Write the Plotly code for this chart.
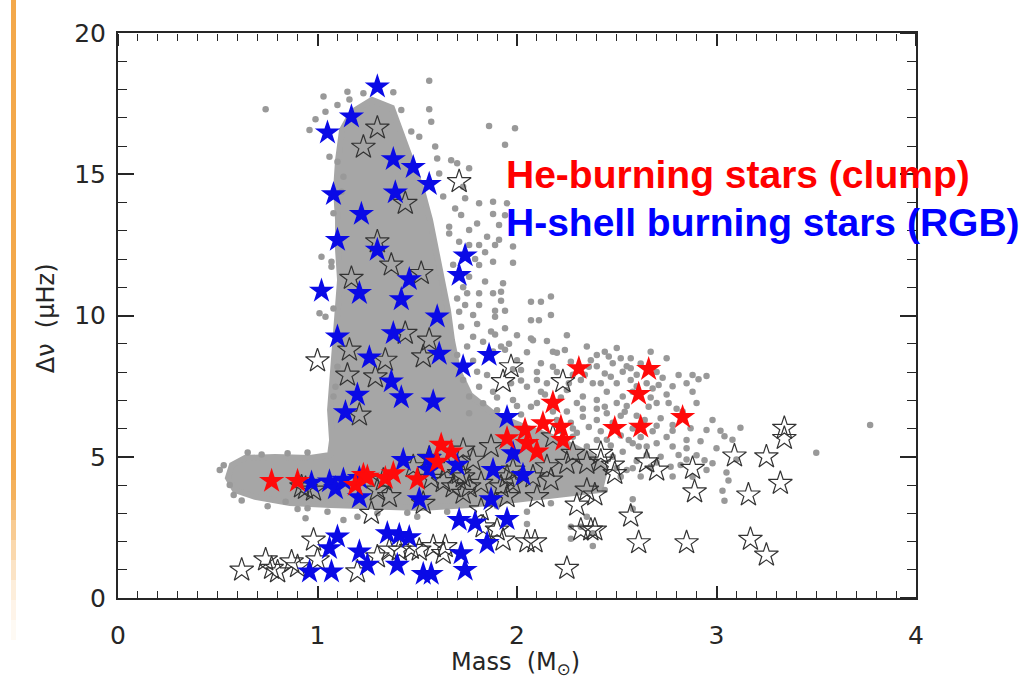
import plotly.graph_objects as go

# ---- Asteroseismic sample: large frequency separation vs. stellar mass ----

# Outline of the densely populated part of the field-star cloud (mass, Δν)
core_mass = [1.173, 1.273, 1.373, 1.424, 1.474, 1.524, 1.564, 1.594, 1.624, 1.654,
             1.674, 1.704, 1.764, 1.890, 2.015, 2.216, 2.366, 2.441, 2.416, 2.216,
             2.015, 1.764, 1.514, 1.263, 1.063, 0.862, 0.687, 0.586, 0.551, 0.571,
             0.637, 0.787, 0.962, 1.063, 1.073, 1.063, 1.073, 1.088, 1.103, 1.113,
             1.103, 1.103, 1.093, 1.103, 1.123, 1.173]
core_dnu = [17.20, 17.63, 17.35, 16.39, 15.50, 14.44, 13.38, 12.32, 11.26, 10.19,
            9.13, 8.07, 7.19, 6.48, 6.12, 5.59, 5.06, 4.53, 3.82, 3.65,
            3.47, 3.29, 3.19, 3.22, 3.29, 3.36, 3.58, 3.82, 4.25, 4.71,
            4.96, 4.99, 4.96, 5.06, 5.59, 6.65, 7.72, 8.96, 10.19, 11.26,
            12.32, 13.38, 14.44, 15.50, 16.57, 17.20]

# Individual field stars outside the dense core (mass, Δν)
field_mass = [
    1.56, 1.38, 1.42, 1.56, 1.57, 1.51, 1.47, 1.86, 1.99, 1.94, 1.59, 1.60, 1.67, 1.76,
    1.61, 1.73, 1.63, 1.74, 1.81, 1.88, 1.95, 1.69, 1.72, 1.80, 1.91, 1.85, 1.66, 1.76,
    1.71, 1.81, 1.89, 1.98, 1.94, 1.88, 1.91, 1.98, 1.88, 1.84, 1.92, 1.94, 1.89, 2.07,
    2.11, 2.17, 1.89, 2.08, 1.94, 1.88, 1.70,
    1.02, 1.07, 1.01, 0.74, 1.03, 1.15, 1.04, 0.99, 0.96, 1.10, 1.06, 1.10, 1.13, 1.12,
    1.08, 1.23, 1.16, 1.07, 1.04, 1.08, 1.10, 1.09, 1.08, 0.51, 0.94, 0.95, 1.13, 1.20,
    0.84, 1.50, 2.05, 2.32,
    1.76, 1.81, 1.76, 1.84, 1.93, 1.92, 1.75, 1.81, 1.88, 2.07, 2.12, 2.17, 1.74, 1.81,
    1.71, 1.78, 1.89, 1.94, 1.87, 2.07, 1.78, 1.83, 1.75, 2.18, 2.00, 2.02, 2.10, 2.05,
    2.12, 1.85, 1.80, 1.73, 1.81, 1.88, 1.76, 1.83, 1.98, 2.07, 1.90, 1.76, 2.25, 2.32,
    2.37, 2.24, 2.18, 2.33, 2.38,
    2.44, 2.52, 2.57, 2.67, 2.75, 2.81, 2.88, 2.91, 2.95, 2.88, 2.71, 2.68, 2.57, 2.57,
    2.53, 2.48, 2.40, 2.47, 2.42, 2.53, 2.66, 2.72, 2.78, 2.87, 2.95, 3.02, 3.12, 2.85,
    2.78, 2.70, 2.65, 2.58, 2.53, 2.55, 2.58, 2.77, 2.82, 2.94, 2.98, 3.05, 3.03, 2.58,
    3.50, 3.77, 2.40, 2.45, 2.20, 2.78, 3.04, 3.04, 2.95, 3.06, 2.58, 2.05, 2.27, 2.12,
    2.36, 2.44, 2.44, 2.54, 2.33, 2.28, 2.35, 2.40, 2.56, 2.61, 2.67, 2.88, 2.81, 2.72,
    2.52, 2.44, 2.17, 2.35, 2.27, 2.38, 2.27, 2.38,
    2.25, 2.30, 2.28, 2.45, 2.50, 2.40, 2.48, 2.55, 2.60, 2.62, 2.70, 2.75, 2.80, 2.22,
    2.15, 2.20, 2.42, 2.52, 2.62, 2.28, 2.18, 2.10, 2.02, 1.98, 2.05, 2.15, 2.25, 2.00,
    2.35, 2.50, 2.64, 2.70, 2.58, 2.47, 2.68, 2.30, 2.20,
    0.62, 0.75, 0.90, 1.05, 1.30, 1.45, 1.65, 1.90, 0.53, 0.58, 0.65, 0.72, 0.85, 0.95,
    0.56,
    1.72, 1.80, 1.70, 1.68, 1.73, 1.79, 1.66, 1.70, 1.78, 1.92, 1.96, 1.97, 1.90, 2.00,
    2.02, 2.10, 2.14, 2.26, 2.34, 2.40, 2.46, 2.55, 2.60, 2.65, 2.73, 2.78, 2.85, 2.90,
    2.83, 2.76, 2.67, 2.58, 2.50, 2.40, 2.33, 2.27, 2.36, 2.45, 2.52, 2.60, 2.70, 2.75,
    2.85, 2.92, 2.90, 2.65, 2.48, 2.60, 2.70, 2.50, 2.62, 2.78, 2.85, 3.00, 3.08, 2.98,
    3.10,
]
field_dnu = [
    18.31, 17.90, 17.27, 17.30, 16.86, 16.33, 16.51, 16.71, 16.63, 16.04, 15.98, 15.56, 15.50, 15.21,
    15.03, 14.56, 14.21, 14.15, 13.97, 14.03, 13.97, 13.79, 13.56, 13.26, 13.20, 12.79, 13.14, 13.03,
    12.61, 12.50, 12.50, 12.44, 13.55, 13.59, 12.68, 11.87, 11.90, 12.24, 10.52, 10.17, 10.17, 9.83,
    9.83, 10.02, 9.33, 9.12, 8.79, 8.73, 15.39,
    12.08, 11.73, 10.08, 17.30, 17.75, 17.92, 17.21, 16.95, 16.57, 17.45, 15.62, 15.44, 14.91, 14.38,
    13.62, 17.87, 17.65, 11.90, 9.96, 10.25, 8.19, 7.48, 7.13, 4.53, 2.82, 3.18, 2.76, 2.88,
    3.41, 2.88, 3.05, 2.52,
    12.50, 11.79, 11.37, 11.20, 11.14, 10.84, 10.79, 10.79, 10.79, 10.49, 10.49, 10.67, 10.37, 10.37,
    10.13, 10.02, 9.96, 9.55, 9.43, 9.19, 9.25, 9.07, 8.90, 8.72, 8.42, 8.07, 7.72, 7.48,
    7.30, 7.89, 8.01, 7.72, 7.48, 7.30, 7.13, 6.89, 7.01, 6.77, 6.65, 6.54, 7.36, 7.72,
    8.42, 8.78, 8.19, 7.13, 7.60,
    8.72, 8.49, 8.49, 8.72, 8.49, 7.89, 7.89, 7.74, 7.86, 7.30, 7.54, 7.42, 8.13, 7.72,
    8.01, 8.31, 8.60, 7.83, 7.60, 7.13, 6.77, 6.36, 6.12, 6.01, 5.95, 5.92, 6.03, 5.59,
    5.36, 5.48, 5.36, 5.48, 5.18, 4.53, 4.59, 4.65, 4.71, 4.88, 4.77, 4.44, 3.80, 3.50,
    5.14, 6.12, 7.01, 6.54, 8.68, 5.92, 5.73, 3.44, 4.53, 4.16, 3.16, 2.62, 8.36, 8.31,
    8.19, 7.95, 6.77, 6.59, 6.42, 5.71, 5.36, 5.59, 5.59, 5.36, 4.65, 4.29, 5.06, 5.00,
    4.29, 3.82, 3.35, 2.88, 2.52, 2.29, 2.10, 1.84,
    6.60, 6.90, 7.90, 7.30, 6.90, 6.30, 6.20, 6.80, 7.50, 8.30, 8.00, 7.20, 6.70, 7.10,
    7.60, 8.00, 5.90, 5.75, 5.70, 6.00, 6.60, 8.00, 7.70, 8.10, 8.70, 9.10, 9.30, 9.30,
    8.90, 8.85, 6.30, 6.90, 6.00, 5.40, 5.90, 5.85, 6.30,
    3.45, 3.25, 3.15, 3.05, 3.00, 3.02, 3.05, 3.25, 4.70, 3.65, 5.15, 5.08, 5.12, 5.15,
    4.00,
    9.60, 9.70, 10.60, 11.80, 11.00, 12.00, 12.90, 8.60, 8.40, 8.90, 9.00, 7.60, 7.10, 6.80,
    6.50, 6.90, 7.20, 7.60, 7.90, 8.20, 8.55, 8.20, 7.90, 7.60, 7.80, 7.50, 7.60, 6.90,
    6.60, 6.90, 7.10, 7.30, 7.60, 6.70, 6.70, 6.20, 6.05, 5.60, 6.45, 6.45, 6.10, 5.70,
    5.30, 5.55, 5.05, 5.05, 5.00, 4.85, 4.80, 4.60, 4.30, 4.30, 4.90, 5.30, 5.60, 6.30,
    4.90,
]

# Seismically classified stars without an evolutionary-state label (open stars)
other_mass = [1.30, 1.23, 1.71, 1.44, 1.30, 1.37, 1.52, 1.17, 1.00, 1.16, 1.15, 1.29, 1.34, 1.21,
              1.44, 1.56, 1.53, 1.97, 1.93, 2.23, 2.42, 2.48, 2.65, 2.70, 2.88, 2.89, 3.09, 3.25,
              3.34, 3.34, 3.32, 3.16, 2.39, 2.57, 2.39, 2.61, 2.85, 3.17, 3.25, 2.25, 2.05, 2.09,
              2.30, 2.32, 2.37, 2.35, 2.17, 2.10, 1.82, 1.90, 1.93, 1.64, 1.58, 1.51, 0.62, 0.74,
              0.77, 0.80, 0.87, 0.90, 0.98, 1.00, 0.94, 1.27, 1.20, 1.30, 1.36, 1.41, 1.47, 1.63,
              1.53, 1.95, 1.83, 1.30, 1.33, 1.48, 1.56, 1.63, 1.68, 1.73, 1.76, 1.73, 1.98, 1.98,
              1.92, 0.92, 0.98, 1.36, 1.65, 1.71, 1.78, 1.82, 1.95, 2.08, 2.15, 2.25, 2.35, 2.28,
              2.18, 1.73, 1.87, 1.57, 2.49, 2.42]
other_dnu = [16.64, 15.96, 14.74, 13.97, 12.61, 11.79, 11.49, 11.32, 8.40, 8.78, 7.89, 7.83, 8.42, 6.48,
             9.37, 9.13, 8.54, 8.19, 7.66, 7.66, 5.12, 4.71, 4.82, 4.53, 4.59, 3.76, 5.03, 5.00,
             6.01, 5.65, 4.06, 3.65, 3.65, 2.90, 2.41, 1.96, 1.96, 2.08, 1.52, 1.05, 1.99, 1.99,
             3.29, 2.41, 2.41, 3.82, 4.18, 3.59, 3.12, 2.41, 2.05, 1.82, 1.82, 1.70, 0.99, 1.35,
             1.05, 0.93, 1.28, 1.11, 2.05, 1.35, 3.88, 3.00, 0.93, 1.46, 1.70, 1.70, 1.76, 1.58,
             3.35, 3.59, 2.52, 3.82, 4.18, 4.65, 4.95, 4.12, 3.94, 4.29, 3.94, 3.71, 4.53, 4.07,
             3.94, 3.94, 3.82, 3.59, 4.65, 4.41, 4.88, 4.06, 4.29, 4.29, 4.65, 4.77, 4.77, 5.12,
             5.71, 5.24, 5.36, 4.24, 4.41, 4.85]

# H-shell burning stars on the red-giant branch
rgb_mass = [1.30, 1.17, 1.05, 1.38, 1.48, 1.56, 1.08, 1.39, 1.22, 1.10, 1.30, 1.74, 1.71, 1.46,
            1.02, 1.21, 1.42, 1.60, 1.10, 1.38, 1.61, 1.86, 1.26, 1.73, 1.37, 1.20, 1.42, 1.58,
            1.14, 1.95, 1.43, 1.56, 1.56, 1.70, 1.88, 1.98, 2.03, 0.97, 1.06, 1.09, 1.13, 1.21,
            1.21, 1.51, 1.87, 1.71, 1.79, 1.95, 1.85, 1.35, 1.41, 1.46, 1.10, 1.06, 0.96, 1.07,
            1.21, 1.25, 1.40, 1.53, 1.57, 1.72, 1.74]
rgb_dnu = [18.10, 17.04, 16.47, 15.53, 15.25, 14.65, 14.29, 14.35, 13.59, 12.67, 12.32, 12.12, 11.43, 11.28,
           10.87, 10.79, 10.57, 9.96, 9.25, 9.37, 8.64, 8.60, 8.51, 8.19, 7.66, 7.19, 7.10, 6.95,
           6.57, 6.40, 4.88, 4.95, 4.53, 4.71, 4.53, 5.12, 4.35, 4.08, 4.12, 3.88, 4.18, 4.24,
           3.56, 3.49, 3.49, 2.76, 2.67, 2.79, 1.94, 2.29, 2.23, 2.15, 2.17, 1.76, 0.93, 0.93,
           1.64, 1.17, 1.17, 0.85, 0.85, 1.58, 0.99]

# He-core burning (red clump) stars
clump_mass = [0.77, 0.90, 1.19, 1.23, 1.25, 1.34, 1.38, 1.50, 1.60, 1.62, 1.67, 1.95, 2.05, 2.04,
              2.13, 2.22, 2.23, 2.10, 2.18, 2.31, 2.66, 2.61, 2.49, 2.62, 2.83]
clump_dnu = [4.14, 4.14, 4.00, 4.35, 4.29, 4.24, 4.41, 4.20, 4.82, 5.42, 5.18, 5.65, 5.48, 5.95,
             6.18, 6.06, 5.59, 5.18, 6.91, 8.13, 8.10, 7.22, 6.01, 6.06, 6.40]

# Axis ranges
mass_range = [0, 4]
dnu_range = [0, 20]

GRAY = "#a6a6a6"
AXIS = "#262626"
CLEAR = "rgba(0,0,0,0)"

fig = go.Figure()

fig.add_trace(go.Scatter(
    x=core_mass, y=core_dnu, mode="lines", fill="toself",
    fillcolor=GRAY, line=dict(color=GRAY, width=6),
    hoverinfo="skip", showlegend=False))

fig.add_trace(go.Scatter(
    x=field_mass, y=field_dnu, mode="markers",
    marker=dict(symbol="circle", size=6.5, color="#999999", line=dict(width=0)),
    showlegend=False))

fig.add_trace(go.Scatter(
    x=other_mass, y=other_dnu, mode="markers",
    marker=dict(symbol="star-open", size=18, color="#333333", line=dict(width=1.2)),
    showlegend=False))

fig.add_trace(go.Scatter(
    x=rgb_mass, y=rgb_dnu, mode="markers",
    marker=dict(symbol="star", size=19, color="#0a0ae6", line=dict(width=0)),
    showlegend=False))

fig.add_trace(go.Scatter(
    x=clump_mass, y=clump_dnu, mode="markers",
    marker=dict(symbol="star", size=19, color="#ff0a0a", line=dict(width=0)),
    showlegend=False))

# Invisible traces on the overlaid axes (tick labels; top/right frame ticks)
fig.add_trace(go.Scatter(x=mass_range, y=dnu_range, xaxis="x2", yaxis="y2",
                         mode="markers", marker=dict(opacity=0),
                         showlegend=False, hoverinfo="skip"))
fig.add_trace(go.Scatter(x=mass_range, y=dnu_range, xaxis="x3", yaxis="y3",
                         mode="markers", marker=dict(opacity=0),
                         showlegend=False, hoverinfo="skip"))

tick_font = dict(family="DejaVu Sans", size=25, color=AXIS)

common = dict(tickmode="linear", tick0=0, showgrid=False, zeroline=False)

# Frame axes: inside major/minor ticks along the bottom and left edges
frame_x = dict(common, range=mass_range, dtick=1, showticklabels=False,
               showline=True, linewidth=2, linecolor=AXIS, mirror=True,
               ticks="inside", ticklen=12, tickwidth=1.6, tickcolor=AXIS,
               minor=dict(ticks="inside", dtick=0.1, ticklen=7, tickwidth=1.3,
                          tickcolor=AXIS))
frame_y = dict(common, range=dnu_range, dtick=5, showticklabels=False,
               showline=True, linewidth=2, linecolor=AXIS, mirror=True,
               ticks="inside", ticklen=16, tickwidth=1.6, tickcolor=AXIS,
               minor=dict(ticks="inside", dtick=1, ticklen=9, tickwidth=1.3,
                          tickcolor=AXIS))

# Label axes: transparent outside ticks set the gap between frame and labels
label_x = dict(common, range=mass_range, dtick=1, overlaying="x", side="bottom",
               anchor="y", showline=False, ticks="outside", ticklen=15,
               tickcolor=CLEAR, tickfont=tick_font)
label_y = dict(common, range=dnu_range, dtick=5, overlaying="y", side="left",
               anchor="x", showline=False, ticks="outside", ticklen=6,
               tickcolor=CLEAR, tickfont=tick_font)

# Top and right frame ticks: axes pinned to the far edges, ticks pointing inward
top_x = dict(common, range=mass_range, dtick=1, overlaying="x", anchor="free",
             position=1, side="bottom", showline=False, showticklabels=False,
             ticks="outside", ticklen=12, tickwidth=1.6, tickcolor=AXIS,
             minor=dict(ticks="outside", dtick=0.1, ticklen=7, tickwidth=1.3,
                        tickcolor=AXIS))
right_y = dict(common, range=dnu_range, dtick=5, overlaying="y", anchor="free",
               position=1, side="left", showline=False, showticklabels=False,
               ticks="outside", ticklen=16, tickwidth=1.6, tickcolor=AXIS,
               minor=dict(ticks="outside", dtick=1, ticklen=9, tickwidth=1.3,
                          tickcolor=AXIS))

title_font = dict(family="DejaVu Sans", size=24, color=AXIS)
label_font = dict(family="Liberation Sans", size=39)

annotations = [
    dict(text="Mass\u00a0\u00a0(M<sub>\u2299</sub>)", x=0.4975, y=-0.116,
         xref="paper", yref="paper", xanchor="center", yanchor="middle",
         showarrow=False, font=title_font),
    dict(text="\u0394\u03bd\u00a0\u00a0(\u03bcHz)", x=-0.0893, y=0.4947,
         xref="paper", yref="paper", xanchor="center", yanchor="middle",
         textangle=-90, showarrow=False, font=title_font),
    dict(text="<b>He-burning stars (clump)</b>", x=0.4837, y=0.749,
         xref="paper", yref="paper", xanchor="left", yanchor="middle",
         showarrow=False, font=dict(label_font, color="#ff0000")),
    dict(text="<b>H-shell burning stars (RGB)</b>", x=0.4837, y=0.664,
         xref="paper", yref="paper", xanchor="left", yanchor="middle",
         showarrow=False, font=dict(label_font, color="#0000ff")),
]

# Orange slide rule on the left edge, fading out towards the bottom
shapes = [dict(type="rect", xref="paper", yref="paper", x0=-0.1341, x1=-0.1278,
               y0=(598 - 480) / 565, y1=1.06, fillcolor="#f3a84a", line=dict(width=0),
               layer="below")]
fade = [0.9, 0.75, 0.6, 0.45, 0.32, 0.2, 0.12, 0.06]
for i, op in enumerate(fade):
    top = 480 + 20 * i
    shapes.append(dict(type="rect", xref="paper", yref="paper", x0=-0.1341, x1=-0.1278,
                       y0=(598 - top - 20) / 565, y1=(598 - top) / 565,
                       fillcolor="#f3a84a", opacity=op, line=dict(width=0), layer="below"))

fig.update_layout(
    template="none",
    width=1032, height=680,
    margin=dict(l=118, r=116, t=33, b=82, autoexpand=False),
    paper_bgcolor="white", plot_bgcolor="white",
    showlegend=False, annotations=annotations, shapes=shapes,
    xaxis=frame_x, yaxis=frame_y, xaxis2=label_x, yaxis2=label_y,
    xaxis3=top_x, yaxis3=right_y,
)

fig.write_html("out.html")
